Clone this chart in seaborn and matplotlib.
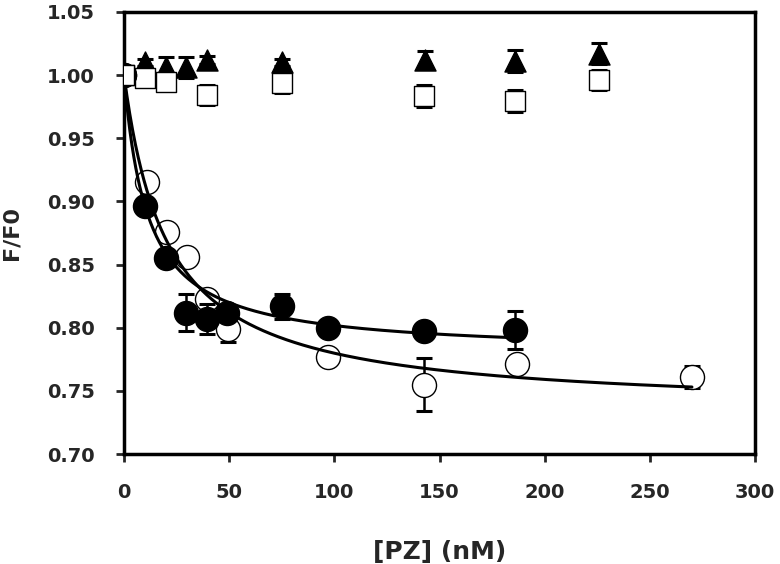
import numpy as np
import pandas as pd
import seaborn as sns
import matplotlib.pyplot as plt

# values
x_filled = [0, 10, 20, 29.5, 39.5, 49, 75, 97, 142.5, 186]
y_filled = [1.000, 0.896, 0.855, 0.812, 0.807, 0.812, 0.817, 0.800, 0.797, 0.798]
e_filled = [0.0, 0.005, 0.005, 0.015, 0.012, 0.005, 0.010, 0.005, 0.006, 0.015]

x_open = [0, 10.8, 20.3, 30.1, 39.6, 49.6, 97, 142.6, 186.7, 270]
y_open = [1.000, 0.915, 0.876, 0.856, 0.823, 0.799, 0.777, 0.755, 0.771, 0.761]
e_open = [0.0, 0.004, 0.003, 0.003, 0.004, 0.010, 0.004, 0.021, 0.006, 0.009]

x_tri = [10, 20, 29.5, 39.5, 75, 143, 186, 226]
y_tri = [1.010, 1.006, 1.006, 1.012, 1.010, 1.012, 1.011, 1.017]
e_tri = [0.003, 0.008, 0.008, 0.003, 0.003, 0.007, 0.009, 0.008]

x_sq = [0, 10, 20, 39.5, 75, 142.7, 186, 226]
y_sq = [1.000, 0.998, 0.9945, 0.984, 0.994, 0.9834, 0.9795, 0.996]
e_sq = [0.0, 0.007, 0.004, 0.008, 0.008, 0.009, 0.009, 0.008]

# hyperbolic fit parameters (F/F0 = 1 - A*x/(Kd + x))
fit_filled = dict(A=0.2205, Kd=11.2, xmax=186)
fit_open = dict(A=0.266, Kd=20.8, xmax=270)

x_ticks = [0, 50, 100, 150, 200, 250, 300]
y_ticks = [0.70, 0.75, 0.80, 0.85, 0.90, 0.95, 1.00, 1.05]

sns.set_style("ticks")
plt.rcParams['font.family'] = ['DejaVu Sans']
plt.rcParams['font.weight'] = 'bold'

fig = plt.figure(figsize=(7.8, 5.64), dpi=100)
ax = fig.add_axes([0.159, 0.195, 0.809, 0.784])

err_kw = dict(fmt='none', ecolor='black', elinewidth=1.8, capsize=5.5, capthick=2.2)

# triangles and squares (control series)
ax.errorbar(x_tri, y_tri, yerr=e_tri, zorder=2, **err_kw)
sns.scatterplot(x=x_tri, y=y_tri, marker='^', s=230, color='black',
                edgecolor='black', linewidth=1, ax=ax, zorder=3)
ax.errorbar(x_sq, y_sq, yerr=e_sq, zorder=4, **err_kw)
sns.scatterplot(x=x_sq, y=y_sq, marker='s', s=220, color='white',
                edgecolor='black', linewidth=1, ax=ax, zorder=5)

# open circles
ax.errorbar(x_open, y_open, yerr=e_open, zorder=6, **err_kw)
sns.scatterplot(x=x_open, y=y_open, marker='o', s=300, color='white',
                edgecolor='black', linewidth=1, ax=ax, zorder=7)

# fit curves
for fit in [fit_open, fit_filled]:
    xs = np.linspace(0, fit['xmax'], 400)
    curve = pd.DataFrame({'x': xs, 'y': 1 - fit['A'] * xs / (fit['Kd'] + xs)})
    sns.lineplot(data=curve, x='x', y='y', color='black', linewidth=2.2,
                 ax=ax, zorder=8)

# filled circles
ax.errorbar(x_filled, y_filled, yerr=e_filled, zorder=9, **err_kw)
sns.scatterplot(x=x_filled, y=y_filled, marker='o', s=300, color='black',
                edgecolor='black', linewidth=1, ax=ax, zorder=10)

# white square at origin sits on top of the circles
sns.scatterplot(x=x_sq[:1], y=y_sq[:1], marker='s', s=220, color='white',
                edgecolor='black', linewidth=1, ax=ax, zorder=11)

ax.set_xlim(0, 300)
ax.set_ylim(0.70, 1.05)
ax.set_xticks(x_ticks)
ax.set_xticklabels([str(v) for v in x_ticks])
ax.set_yticks(y_ticks)
ax.set_yticklabels([f'{v:.2f}' for v in y_ticks])
ax.set_xlabel('[PZ] (nM)', fontsize=18, fontweight='bold', labelpad=27)
ax.set_ylabel('F/F0', fontsize=16, fontweight='bold')
ax.yaxis.set_label_coords(-0.162, 0.5)
ax.tick_params(axis='both', labelsize=14, width=2, length=6, direction='out')
ax.tick_params(axis='x', pad=15)
ax.tick_params(axis='y', pad=15)
for lab in ax.get_xticklabels() + ax.get_yticklabels():
    lab.set_fontweight('bold')
for side in ['left', 'right', 'top', 'bottom']:
    ax.spines[side].set_visible(True)
    ax.spines[side].set_linewidth(2.5)
    ax.spines[side].set_color('black')

fig.savefig('out.png', dpi=100)
